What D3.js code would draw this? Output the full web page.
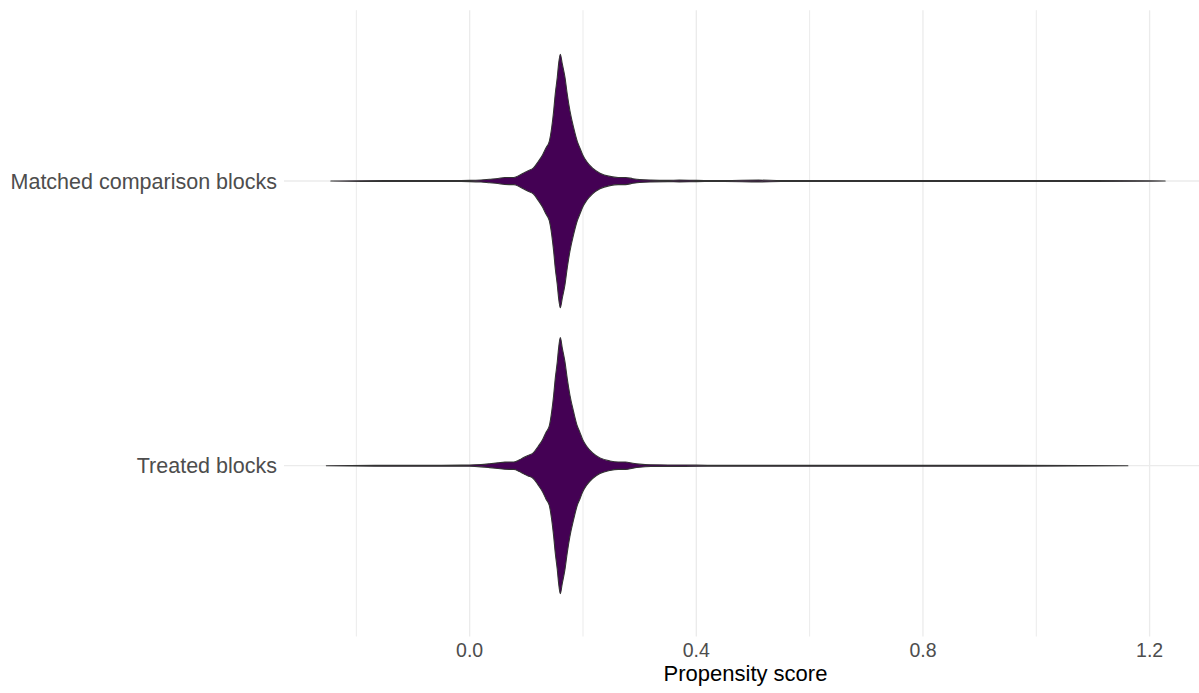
<!DOCTYPE html>
<html>
<head>
<meta charset="utf-8">
<script src="https://cdn.jsdelivr.net/npm/d3@7"></script>
<style>
  body { margin: 0; background: #fff; }
  text { font-family: "Liberation Sans", Arial, sans-serif; }
</style>
</head>
<body>
<div id="chart"></div>
<script>
// groups, top to bottom
var categories = ["Matched comparison blocks", "Treated blocks"];

// density outline (score, relative density)
var matchedScore = [-0.245, -0.15, -0.05, 0.0, 0.02, 0.035, 0.05, 0.062, 0.07, 0.078, 0.088, 0.0946, 0.103, 0.1122,
  0.121, 0.1288, 0.1346, 0.1405, 0.1447, 0.1482, 0.151, 0.1546, 0.157, 0.16, 0.1634, 0.1682, 0.1722, 0.177, 0.1835,
  0.1899, 0.1946, 0.1994, 0.2065, 0.217, 0.23, 0.2476, 0.262, 0.275, 0.288, 0.30, 0.32, 0.35, 0.37, 0.40, 0.45,
  0.51, 0.55, 0.7, 0.9, 1.1, 1.2275];
var matchedDensity = [0, 0.004, 0.004, 0.005, 0.008, 0.014, 0.02, 0.027, 0.028, 0.028, 0.045, 0.061, 0.08, 0.10,
  0.152, 0.205, 0.258, 0.31, 0.416, 0.547, 0.679, 0.81, 0.916, 0.99, 0.916, 0.81, 0.679, 0.547, 0.416,
  0.31, 0.258, 0.205, 0.152, 0.10, 0.061, 0.036, 0.028, 0.028, 0.018, 0.011, 0.007, 0.005, 0.007, 0.005, 0.004,
  0.007, 0.004, 0.004, 0.004, 0.004, 0];

var treatedScore = [-0.253, -0.15, -0.05, 0.0, 0.02, 0.035, 0.05, 0.062, 0.07, 0.078, 0.088, 0.0946, 0.103, 0.1122,
  0.121, 0.1288, 0.1346, 0.1405, 0.1447, 0.1482, 0.151, 0.1546, 0.157, 0.16, 0.1634, 0.1682, 0.1722, 0.177, 0.1835,
  0.1899, 0.1946, 0.1994, 0.2065, 0.217, 0.23, 0.2476, 0.262, 0.275, 0.288, 0.30, 0.32, 0.35, 0.38, 0.42,
  0.6, 0.9, 1.1617];
var treatedDensity = [0, 0.004, 0.004, 0.005, 0.009, 0.015, 0.022, 0.028, 0.029, 0.029, 0.046, 0.062, 0.08, 0.10,
  0.152, 0.205, 0.26, 0.31, 0.42, 0.55, 0.68, 0.81, 0.92, 1.0, 0.92, 0.81, 0.68, 0.55, 0.42,
  0.31, 0.26, 0.205, 0.152, 0.10, 0.061, 0.037, 0.029, 0.029, 0.019, 0.012, 0.007, 0.006, 0.006, 0.004,
  0.004, 0.004, 0];

var majorTicks = [0.0, 0.4, 0.8, 1.2];
var minorTicks = [-0.2, 0.2, 0.6, 1.0];
var xTitle = "Propensity score";

var width = 1199, height = 693;
var panel = {left: 284, right: 1199, top: 10.2, bottom: 636.5};

var svg = d3.select("#chart")
            .append("svg")
            .attr("width", width)
            .attr("height", height)
            .style("background", "#fff");

var x = d3.scaleLinear()
          .domain([-0.3277, 1.2872])
          .range([panel.left, panel.right]);

var y = d3.scalePoint()
          .domain(categories)
          .range([panel.top, panel.bottom])
          .padding(0.6);

// violin half width: 0.9 of a category step at the densest point
var w = d3.scaleLinear()
          .domain([0, 1])
          .range([0, 0.45 * y.step()]);

// grid
svg.append("g").selectAll("line.minor")
   .data(minorTicks)
   .enter().append("line")
   .attr("x1", d => x(d)).attr("x2", d => x(d))
   .attr("y1", panel.top).attr("y2", panel.bottom)
   .attr("stroke", "#ebebeb").attr("stroke-width", 1);

svg.append("g").selectAll("line.major")
   .data(majorTicks)
   .enter().append("line")
   .attr("x1", d => x(d)).attr("x2", d => x(d))
   .attr("y1", panel.top).attr("y2", panel.bottom)
   .attr("stroke", "#ebebeb").attr("stroke-width", 1.3);

svg.append("g").selectAll("line.hgrid")
   .data(categories)
   .enter().append("line")
   .attr("x1", panel.left).attr("x2", panel.right)
   .attr("y1", d => y(d)).attr("y2", d => y(d))
   .attr("stroke", "#ebebeb").attr("stroke-width", 1.3);

// violins
var groups = [
  {name: categories[0], score: matchedScore, dens: matchedDensity},
  {name: categories[1], score: treatedScore, dens: treatedDensity}
];

groups.forEach(g => {
  var pts = g.score.map((s, i) => ({s: s, d: g.dens[i]}));
  var cy = y(g.name);
  var area = d3.area()
               .x(p => x(p.s))
               .y0(p => cy - w(p.d))
               .y1(p => cy + w(p.d))
               .curve(d3.curveMonotoneX);
  svg.append("path")
     .attr("d", area(pts))
     .attr("fill", "#440154")
     .attr("stroke", "#333333")
     .attr("stroke-width", 1.07)
     .attr("stroke-linejoin", "round");
});

// y labels
svg.append("g").selectAll("text")
   .data(categories)
   .enter().append("text")
   .attr("x", panel.left - 7)
   .attr("y", d => y(d))
   .attr("dy", "0.35em")
   .attr("text-anchor", "end")
   .attr("fill", "#4d4d4d")
   .style("font-size", "21.5px")
   .text(d => d);

// x tick labels
svg.append("g").selectAll("text")
   .data(majorTicks)
   .enter().append("text")
   .attr("x", d => x(d))
   .attr("y", 656.5)
   .attr("text-anchor", "middle")
   .attr("fill", "#4d4d4d")
   .style("font-size", "19.5px")
   .text(d => d3.format(".1f")(d));

// x title
svg.append("text")
   .attr("x", (panel.left + panel.right) / 2 + 4)
   .attr("y", 680.5)
   .attr("text-anchor", "middle")
   .attr("fill", "#000")
   .style("font-size", "22px")
   .text(xTitle);
</script>
</body>
</html>
